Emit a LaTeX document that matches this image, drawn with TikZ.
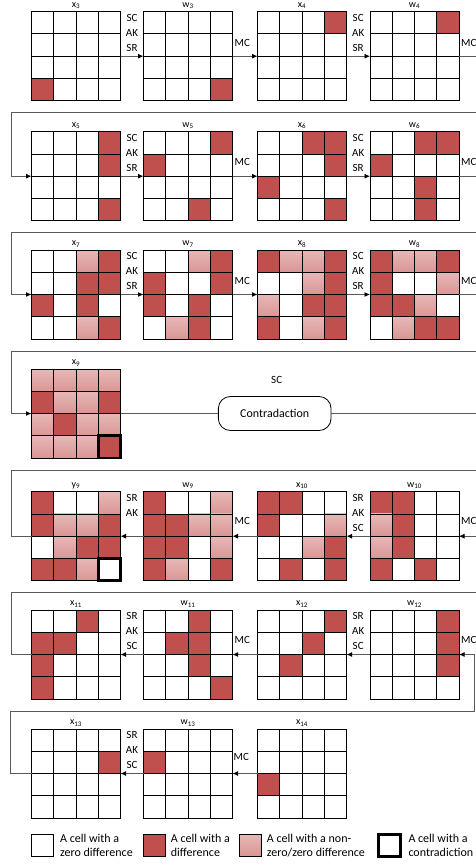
\documentclass[tikz,border=0pt]{standalone}
\usepackage{fontspec}
\setmainfont{Carlito}
\usetikzlibrary{arrows.meta}
\definecolor{cellred}{RGB}{192,80,77}
\definecolor{gradtop}{RGB}{230,184,183}
\definecolor{gradmid}{RGB}{250,236,236}
\definecolor{gradbot}{RGB}{217,150,148}
\definecolor{connc}{RGB}{90,90,90}
\tikzset{
 redcell/.style={fill=cellred},
 gradcell/.style={top color=gradtop, middle color=gradmid, bottom color=gradbot},
 gridline/.style={draw=black, line width=0.9pt},
 gridbox/.style={draw=black, line width=0.9pt, minimum size=89pt, inner sep=0pt, outer sep=0pt},
 conn/.style={draw=connc, line width=0.9pt},
 arr/.style={-{Latex[length=5.5pt,width=5pt,color=black]}},
 title/.style={font=\fontsize{10}{12}\selectfont, anchor=base, inner sep=0pt},
 oplab/.style={font=\fontsize{11}{13}\selectfont, inner sep=0pt},
 mclab/.style={font=\fontsize{11}{13}\selectfont, inner sep=0pt, anchor=west},
 thickcell/.style={draw=black, line width=2.6pt},
 legtext/.style={font=\fontsize{12}{14}\selectfont, anchor=base west, inner sep=0pt},
 legbox/.style={draw=black, line width=0.9pt, minimum size=22pt, inner sep=0pt, outer sep=0pt, anchor=north west},
}
% #1 name, #2 left, #3 top, #4 pattern, #5 label
\newcommand{\mkgrid}[5]{%
  \foreach \v [count=\i from 0] in {#4} {%
    \pgfmathtruncatemacro\cellr{floor(\i/4)}%
    \pgfmathtruncatemacro\cellc{mod(\i,4)}%
    \ifnum\v=1 \fill[redcell] ({#2+\cellc*22.25},{#3+\cellr*22.25}) rectangle ++(22.25,22.25);\fi
    \ifnum\v=2 \shade[gradcell] ({#2+\cellc*22.25},{#3+\cellr*22.25}) rectangle ++(22.25,22.25);\fi
  }%
  \foreach \k in {1,2,3} {%
    \draw[gridline] ({#2+\k*22.25},#3) -- ++(0,89);
    \draw[gridline] (#2,{#3+\k*22.25}) -- ++(89,0);
  }%
  \node[gridbox] (#1) at ({#2+44.5},{#3+44.5}) {};
  \node[title] (t#1) at ({#2+44.5},{#3-4.5}) {#5};
}
\begin{document}
\begin{tikzpicture}[x=1pt,y=-1pt]
\useasboundingbox (0,0) rectangle (475,867);
\fill[white] (0,0) rectangle (475,867);

% ---------------- Row 1
\mkgrid{x3}{31.5}{11.7}{0,0,0,0, 0,0,0,0, 0,0,0,0, 1,0,0,0}{x\textsubscript{3}}
\mkgrid{w3}{143.5}{11.7}{0,0,0,0, 0,0,0,0, 0,0,0,0, 0,0,0,1}{w\textsubscript{3}}
\mkgrid{x4}{257.5}{11.7}{0,0,0,1, 0,0,0,0, 0,0,0,0, 0,0,0,0}{x\textsubscript{4}}
\mkgrid{w4}{370}{11.7}{0,0,0,1, 0,0,0,0, 0,0,0,0, 0,0,0,0}{w\textsubscript{4}}
\node[oplab] (a1sc) at (132,17.5) {SC};
\node[oplab] (a1ak) at (132,32.5) {AK};
\node[oplab] (a1sr) at (132,47.5) {SR};
\node[oplab] (b1sc) at (358.2,17.5) {SC};
\node[oplab] (b1ak) at (358.2,32.5) {AK};
\node[oplab] (b1sr) at (358.2,47.5) {SR};
\node[mclab] (m1a) at (234.5,43) {MC};
\node[mclab] (m1b) at (461,43) {MC};

% ---------------- Row 2
\mkgrid{x5}{31.5}{131.7}{0,0,0,1, 0,0,0,1, 0,0,0,0, 0,0,0,1}{x\textsubscript{5}}
\mkgrid{w5}{143.5}{131.7}{0,0,0,1, 1,0,0,0, 0,0,0,0, 0,0,1,0}{w\textsubscript{5}}
\mkgrid{x6}{257.5}{131.7}{0,0,1,1, 0,0,0,1, 1,0,0,0, 0,0,0,1}{x\textsubscript{6}}
\mkgrid{w6}{370}{131.7}{0,0,1,1, 1,0,0,0, 0,0,1,0, 0,0,1,0}{w\textsubscript{6}}
\node[oplab] (a2sc) at (132,137.5) {SC};
\node[oplab] (a2ak) at (132,152.5) {AK};
\node[oplab] (a2sr) at (132,167.5) {SR};
\node[oplab] (b2sc) at (358.2,137.5) {SC};
\node[oplab] (b2ak) at (358.2,152.5) {AK};
\node[oplab] (b2sr) at (358.2,167.5) {SR};
\node[mclab] (m2a) at (234.5,162) {MC};
\node[mclab] (m2b) at (461,162) {MC};

% ---------------- Row 3
\mkgrid{x7}{31.5}{250}{0,0,2,1, 0,0,1,1, 1,0,1,0, 0,0,2,1}{x\textsubscript{7}}
\mkgrid{w7}{143.5}{250}{0,0,2,1, 1,0,0,1, 1,0,1,0, 0,2,1,0}{w\textsubscript{7}}
\mkgrid{x8}{257.5}{250}{1,2,2,1, 0,0,2,1, 2,0,1,1, 1,0,2,1}{x\textsubscript{8}}
\mkgrid{w8}{370}{250}{1,2,2,1, 1,0,0,2, 1,1,2,0, 0,2,1,1}{w\textsubscript{8}}
\node[oplab] (a3sc) at (132,255.8) {SC};
\node[oplab] (a3ak) at (132,270.8) {AK};
\node[oplab] (a3sr) at (132,285.8) {SR};
\node[oplab] (b3sc) at (358.2,255.8) {SC};
\node[oplab] (b3ak) at (358.2,270.8) {AK};
\node[oplab] (b3sr) at (358.2,285.8) {SR};
\node[mclab] (m3a) at (234.5,280.5) {MC};
\node[mclab] (m3b) at (461,280.5) {MC};

% ---------------- Row 4
\mkgrid{x9}{31.5}{369}{2,2,2,2, 1,2,2,1, 2,1,2,2, 2,2,2,1}{x\textsubscript{9}}
\draw[thickcell] (98.25,435.75) rectangle ++(22.25,22.25);
\node[oplab] (sc4) at (276.7,380) {SC};
\node[draw=black, line width=0.8pt, rounded corners=12pt, minimum width=112.7pt, minimum height=34pt, fill=white, inner sep=0pt, font=\fontsize{12}{14}\selectfont] (contra) at (274.7,413.5) {Contradaction};

% ---------------- Row 5
\mkgrid{y9}{31.5}{491.7}{1,0,0,2, 1,2,2,1, 0,2,1,1, 1,1,2,0}{y\textsubscript{9}}
\mkgrid{w9}{143.5}{491.7}{1,0,0,2, 1,1,2,2, 1,1,0,2, 1,2,0,1}{w\textsubscript{9}}
\mkgrid{x10}{257.5}{491.7}{1,1,0,0, 1,0,0,2, 0,0,2,1, 0,1,0,1}{x\textsubscript{10}}
\mkgrid{w10}{370}{491.7}{1,1,0,0, 2,1,0,0, 2,1,0,0, 1,0,1,0}{w\textsubscript{10}}
\draw[thickcell] (98.25,558.45) rectangle ++(22.25,22.25);
\node[oplab] (a5sr) at (132,498) {SR};
\node[oplab] (a5ak) at (132,513) {AK};
\node[oplab] (b5sr) at (358.2,498) {SR};
\node[oplab] (b5ak) at (358.2,513) {AK};
\node[oplab] (b5sc) at (358.2,528) {SC};
\node[mclab] (m5a) at (234.5,521) {MC};
\node[mclab] (m5b) at (461,521) {MC};

% ---------------- Row 6
\mkgrid{x11}{31.5}{610}{0,0,1,0, 1,1,0,0, 1,0,0,0, 1,0,0,0}{x\textsubscript{11}}
\mkgrid{w11}{143.5}{610}{0,0,1,0, 0,1,1,0, 0,0,1,0, 0,0,0,1}{w\textsubscript{11}}
\mkgrid{x12}{257.5}{610}{0,0,0,1, 0,0,1,0, 0,1,0,0, 0,0,0,0}{x\textsubscript{12}}
\mkgrid{w12}{370}{610}{0,0,0,1, 0,0,0,1, 0,0,0,1, 0,0,0,0}{w\textsubscript{12}}
\node[oplab] (a6sr) at (132,616) {SR};
\node[oplab] (a6ak) at (132,631) {AK};
\node[oplab] (a6sc) at (132,646) {SC};
\node[oplab] (b6sr) at (358.2,616) {SR};
\node[oplab] (b6ak) at (358.2,631) {AK};
\node[oplab] (b6sc) at (358.2,646) {SC};
\node[mclab] (m6a) at (234.5,640) {MC};
\node[mclab] (m6b) at (461,640) {MC};

% ---------------- Row 7
\mkgrid{x13}{31.5}{729}{0,0,0,0, 0,0,0,1, 0,0,0,0, 0,0,0,0}{x\textsubscript{13}}
\mkgrid{w13}{143.5}{729}{0,0,0,0, 1,0,0,0, 0,0,0,0, 0,0,0,0}{w\textsubscript{13}}
\mkgrid{x14}{257.5}{729}{0,0,0,0, 0,0,0,0, 1,0,0,0, 0,0,0,0}{x\textsubscript{14}}
\node[oplab] (a7sr) at (132,735) {SR};
\node[oplab] (a7ak) at (132,750) {AK};
\node[oplab] (a7sc) at (132,765) {SC};
\node[mclab] (m7a) at (233.5,757) {MC};

% ---------------- Connectors
\draw[conn,arr] (x3.east) -- (w3.west);
\draw[conn,arr] (w3.east) -- (x4.west);
\draw[conn,arr] (x4.east) -- (w4.west);
\draw[conn,arr] (w4.east) -| (485,112.7) -| (11.5,176.2) -- (x5.west);
\draw[conn,arr] (x5.east) -- (w5.west);
\draw[conn,arr] (w5.east) -- (x6.west);
\draw[conn,arr] (x6.east) -- (w6.west);
\draw[conn,arr] (w6.east) -| (485,232.3) -| (11.5,294.5) -- (x7.west);
\draw[conn,arr] (x7.east) -- (w7.west);
\draw[conn,arr] (w7.east) -- (x8.west);
\draw[conn,arr] (x8.east) -- (w8.west);
\draw[conn,arr] (w8.east) -| (485,351) -| (11.5,413.5) -- (x9.west);
\draw[conn] (x9.east) -- (contra.west);
\draw[conn] (y9.west) -| (11.5,470.7) -| (485,413.5) -- (contra.east);
\draw[conn,arr] (w9.west) -- (y9.east);
\draw[conn,arr] (x10.west) -- (w9.east);
\draw[conn,arr] (w10.west) -- (x10.east);
\draw[conn,arr] (x11.west) -| (11.5,592.3) -| (485,536.2) -- (w10.east);
\draw[conn,arr] (w11.west) -- (x11.east);
\draw[conn,arr] (x12.west) -- (w11.east);
\draw[conn,arr] (w12.west) -- (x12.east);
\draw[conn,arr] (x13.west) -| (10,711.7) -| (474,654.5) -- (w12.east);
\draw[conn,arr] (w13.west) -- (x13.east);
\draw[conn,arr] (x14.west) -- (w13.east);

% ---------------- Legend
\node[legbox] (lg1) at (31.5,834.3) {};
\node[legbox, fill=cellred] (lg2) at (143.5,834.3) {};
\shade[gradcell] (239.5,834.3) rectangle ++(22,22);
\node[legbox] (lg3) at (239.5,834.3) {};
\node[legbox, line width=2.6pt] (lg4) at (378.5,834.3) {};
\node[legtext] (lt1a) at (60,842.7) {A cell with a};
\node[legtext] (lt1b) at (60,856.7) {zero difference};
\node[legtext] (lt2a) at (170.7,842.7) {A cell with a};
\node[legtext] (lt2b) at (170.7,856.7) {difference};
\node[legtext] (lt3a) at (266.7,842.7) {A cell with a non-};
\node[legtext] (lt3b) at (266.7,856.7) {zero/zero difference};
\node[legtext] (lt4a) at (408.3,842.7) {A cell with a};
\node[legtext] (lt4b) at (408.3,856.7) {contradiction};
\end{tikzpicture}
\end{document}
